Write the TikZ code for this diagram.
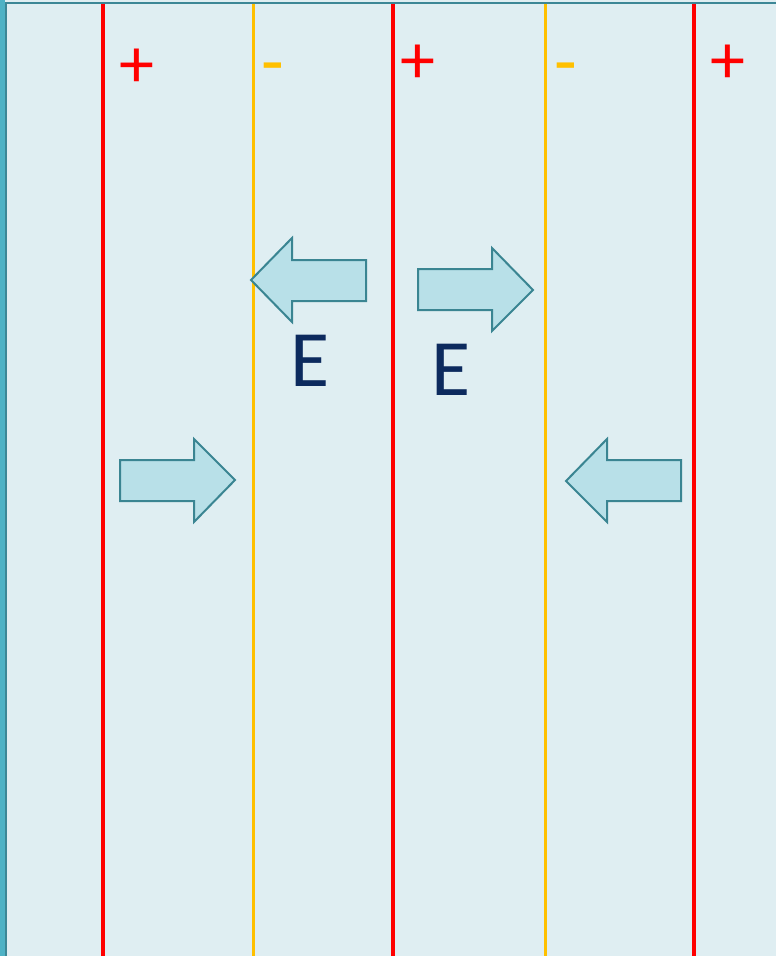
\documentclass[tikz,border=0pt]{standalone}
\usepackage{fontspec}
\setmainfont{Carlito}
\definecolor{bgfill}{HTML}{DFEEF2}
\definecolor{strip}{HTML}{4EB2C5}
\definecolor{frame}{HTML}{3C8796}
\definecolor{plusred}{HTML}{FF0000}
\definecolor{minusyel}{HTML}{FFC000}
\definecolor{arrfill}{HTML}{B8E0E8}
\definecolor{arredge}{HTML}{3A8592}
\definecolor{navy}{HTML}{0C2A5E}
\tikzset{
  redplate/.style={draw=plusred, line width=4pt},
  yelplate/.style={draw=minusyel, line width=3pt},
  fieldarrow/.style={fill=arrfill, draw=arredge, line width=2pt, line join=miter},
  plussign/.style={text=plusred, font=\fontsize{70}{70}\selectfont, inner sep=0pt},
  minussign/.style={text=minusyel, font=\fontsize{74}{74}\selectfont, inner sep=0pt},
  elabel/.style={text=navy, font=\fontsize{80}{80}\selectfont, inner sep=0pt},
}
\begin{document}
\begin{tikzpicture}[x=1pt, y={(0,-1pt)}]
\useasboundingbox (0,0) rectangle (776,956);
\fill[bgfill] (0,0) rectangle (776,956);
\fill[strip] (0,0) rectangle (5,956);
\draw[frame, line width=2pt] (6,960) -- (6,2.5) -- (780,2.5);
% plates
\draw[redplate] (103,3.5) -- (103,956);
\draw[yelplate] (253,3.5) -- (253,956);
\draw[redplate] (393,3.5) -- (393,956);
\draw[yelplate] (545,3.5) -- (545,956);
\draw[redplate] (694,3.5) -- (694,956);
% signs
\node[plussign] (p1) at (137,68) {+};
\node[minussign] (m1) at (273,75) {-};
\node[plussign] (p2) at (418,64) {+};
\node[minussign] (m2) at (566,75) {-};
\node[plussign] (p3) at (728,64) {+};
% arrows
\draw[fieldarrow] (251,280) -- (292,238) -- (292,260) -- (366,260) -- (366,301) -- (292,301) -- (292,322) -- cycle;
\draw[fieldarrow] (533,290) -- (492,248) -- (492,269) -- (418,269) -- (418,310) -- (492,310) -- (492,331) -- cycle;
\draw[fieldarrow] (235,480) -- (194,439) -- (194,460) -- (120,460) -- (120,501) -- (194,501) -- (194,522) -- cycle;
\draw[fieldarrow] (566,481) -- (607,439) -- (607,460) -- (681,460) -- (681,501) -- (607,501) -- (607,522) -- cycle;
% labels
\node[elabel] (e1) at (310,361) {E};
\node[elabel] (e2) at (451,370) {E};
\end{tikzpicture}
\end{document}
